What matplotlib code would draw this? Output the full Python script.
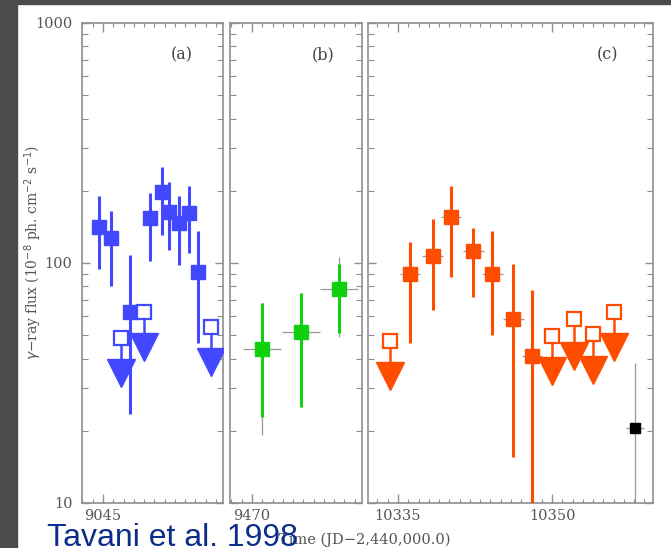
import matplotlib
matplotlib.use('Agg')
import matplotlib.pyplot as plt
from matplotlib import font_manager
from matplotlib.ticker import FixedLocator, MultipleLocator, LogLocator, NullFormatter, FixedFormatter
from matplotlib.patches import Rectangle

# panel (a): detections (time, flux, upper/lower end of error bar)
a_t = [9044.64, 9045.75, 9047.63, 9049.58, 9050.72, 9051.43, 9052.40, 9053.38, 9054.28]
a_f = [140.9, 126.8, 62.7, 154.5, 198.2, 162.7, 147.2, 161.1, 92.0]
a_hi = [190.2, 165.2, 108.0, 196.3, 251.2, 218.2, 190.2, 209.4, 136.3]
a_lo = [94.4, 80.2, 23.6, 101.9, 130.9, 113.3, 98.1, 109.7, 46.3]
# panel (a): upper limits (open square value, limit value)
a_ul_t = [9046.72, 9048.99, 9055.52]
a_ul_open = [48.7, 62.7, 54.3]
a_ul = [34.9, 44.5, 38.7]

# panel (b)
b_t = [9470.94, 9474.74, 9478.50]
b_f = [43.8, 51.6, 78.1]
b_hi = [68.3, 75.2, 99.0]
b_lo = [22.9, 25.2, 51.2]
b_sys_hi = [68.3, 75.2, 106.2]
b_sys_lo = [19.2, 25.2, 49.3]
b_dt = 1.85

# panel (c)
c_t = [10336.17, 10338.38, 10340.16, 10342.33, 10344.18, 10346.23, 10348.05]
c_f = [89.7, 106.9, 155.9, 112.2, 89.7, 58.3, 41.0]
c_hi = [122.7, 152.5, 209.4, 139.5, 136.3, 98.8, 77.2]
c_lo = [46.3, 63.7, 87.7, 71.9, 50.1, 15.6, 8.0]
c_ul_t = [10334.22, 10350.02, 10352.14, 10354.02, 10356.03]
c_ul_open = [47.3, 49.7, 58.3, 50.5, 62.7]
c_ul = [33.8, 35.5, 41.0, 35.8, 44.7]
# late single point
d_t = [10358.07]
d_f = [20.5]
d_hi = [38.4]
d_lo = [8.0]

BLUE = '#4148ff'
GREEN = '#10d010'
ORANGE = '#ff4d00'
GRAY = '#9a9a9a'
AXC = '#8f8f8f'
TXT = '#555555'

fig = plt.figure(figsize=(6.71, 5.48), dpi=100)
fig.patch.set_facecolor('white')
# dark frame along the top and left edges
fig.patches.append(Rectangle((0, 1 - 4 / 548), 1, 4 / 548, transform=fig.transFigure,
                             color='#4b4b4b', zorder=0))
fig.patches.append(Rectangle((0, 0), 17 / 671, 1, transform=fig.transFigure,
                             color='#4b4b4b', zorder=0))

bot = 1 - 503 / 548
hgt = 480 / 548
ax_a = fig.add_axes([82 / 671, bot, 141 / 671, hgt])
ax_b = fig.add_axes([230 / 671, bot, 132 / 671, hgt])
ax_c = fig.add_axes([368 / 671, bot, 285 / 671, hgt])


def errs(f, lo, hi):
    return [[v - l for v, l in zip(f, lo)], [h - v for v, h in zip(f, hi)]]


def style(ax, xlim, majors, label, lx):
    ax.set_yscale('log')
    ax.set_ylim(10, 1000)
    ax.set_xlim(*xlim)
    ax.xaxis.set_major_locator(FixedLocator(majors))
    ax.xaxis.set_major_formatter(FixedFormatter([str(m) for m in majors]))
    ax.xaxis.set_minor_locator(MultipleLocator(1))
    ax.yaxis.set_major_locator(LogLocator(base=10))
    ax.yaxis.set_minor_locator(LogLocator(base=10, subs=range(2, 10)))
    ax.yaxis.set_minor_formatter(NullFormatter())
    ax.tick_params(which='both', direction='in', top=True, right=True, color=AXC,
                   labelcolor=TXT, labelsize=10.5)
    ax.tick_params(axis='x', which='major', length=6.5, width=1, pad=4)
    ax.tick_params(axis='x', which='minor', length=3, width=0.8)
    ax.tick_params(axis='y', which='major', length=6, width=1, pad=7)
    ax.tick_params(axis='y', which='minor', length=4, width=0.8)
    for lab in ax.get_xticklabels():
        lab.set_family('DejaVu Serif')
    for sp in ax.spines.values():
        sp.set_color(AXC)
        sp.set_linewidth(1.2)
    ax.text(lx, 0.933, label, transform=ax.transAxes, ha='center', va='center',
            family='DejaVu Serif', fontsize=11.5, color='#444444')


def limits(ax, t, opn, ul, color):
    for x, o, u in zip(t, opn, ul):
        ax.plot([x, x], [o, u], color=color, lw=1.8, zorder=3)
    ax.plot(t, ul, 'v', ms=20, color=color, mec=color, zorder=4)
    ax.plot(t, opn, 's', ms=10, mfc='white', mec=color, mew=1.6, zorder=5)


# panel (a)
ax_a.errorbar(a_t, a_f, xerr=0.5, fmt='none', ecolor=GRAY, elinewidth=0.9, zorder=2)
ax_a.errorbar(a_t, a_f, yerr=errs(a_f, a_lo, a_hi), fmt='s', ms=10, color=BLUE,
              ecolor=BLUE, elinewidth=2.2, capsize=0, zorder=3)
limits(ax_a, a_ul_t, a_ul_open, a_ul, BLUE)
style(ax_a, (9042.96, 9056.68), [9045], '(a)', 0.709)
ax_a.yaxis.set_major_formatter(FixedFormatter(['10', '100', '1000']))
ax_a.yaxis.set_major_locator(FixedLocator([10, 100, 1000]))
for lab in ax_a.get_yticklabels():
    lab.set_family('DejaVu Serif')

# panel (b)
ax_b.errorbar(b_t, b_f, xerr=b_dt, yerr=errs(b_f, b_sys_lo, b_sys_hi), fmt='none',
              ecolor=GRAY, elinewidth=0.9, zorder=2)
ax_b.errorbar(b_t, b_f, yerr=errs(b_f, b_lo, b_hi), fmt='s', ms=10, color=GREEN,
              ecolor=GREEN, elinewidth=2.2, capsize=0, zorder=3)
style(ax_b, (9467.86, 9480.71), [9470], '(b)', 0.705)
ax_b.yaxis.set_major_formatter(NullFormatter())

# panel (c)
ax_c.errorbar(c_t, c_f, xerr=1.0, fmt='none', ecolor=GRAY, elinewidth=0.9, zorder=2)
ax_c.errorbar(c_t, c_f, yerr=errs(c_f, c_lo, c_hi), fmt='s', ms=10, color=ORANGE,
              ecolor=ORANGE, elinewidth=2.2, capsize=0, zorder=3)
limits(ax_c, c_ul_t, c_ul_open, c_ul, ORANGE)
ax_c.errorbar(d_t, d_f, xerr=0.9, yerr=errs(d_f, d_lo, d_hi), fmt='none',
              ecolor=GRAY, elinewidth=0.9, zorder=2)
ax_c.plot(d_t, d_f, 's', ms=7, color='black', zorder=3)
style(ax_c, (10332.08, 10359.83), [10335, 10350], '(c)', 0.839)
ax_c.yaxis.set_major_formatter(NullFormatter())

fig.text(33 / 671, 1 - 252 / 548,
         '$\\gamma$\u2212ray flux (10$^{-8}$ ph. cm$^{-2}$ s$^{-1}$)',
         rotation=90, ha='center', va='center', family='DejaVu Serif',
         fontsize=10, color=TXT)
plt.rcParams['mathtext.fontset'] = 'dejavuserif'
fig.text(365 / 671, 1 - 540 / 548, 'Time (JD\u22122,440,000.0)', ha='center',
         va='center', family='DejaVu Serif', fontsize=10.5, color=TXT)

names = {f.name for f in font_manager.fontManager.ttflist}
if 'Liberation Sans Narrow' in names:
    cfam, csize = 'Liberation Sans Narrow', 27.5
else:
    cfam, csize = 'Liberation Sans', 23
fig.text(47 / 671, 1 - 546 / 548, 'Tavani et al. 1998', ha='left', va='baseline',
         family=cfam, fontsize=csize, color='#0d2d8a', zorder=10)

fig.savefig('out.png', dpi=100)
